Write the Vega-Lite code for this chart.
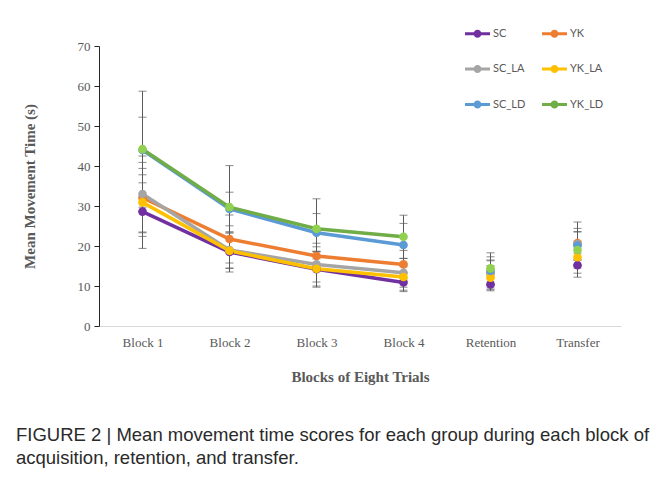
{
  "$schema": "https://vega.github.io/schema/vega-lite/v6.json",
  "width": 522,
  "height": 280,
  "autosize": {"type": "none"},
  "padding": {"left": 99, "top": 46, "right": 36, "bottom": 152},
  "background": "white",
  "config": {
    "view": {"stroke": null},
    "font": "Liberation Serif"
  },
  "title": {
    "text": ["FIGURE 2 | Mean movement time scores for each group during each block of", "acquisition, retention, and transfer."],
    "orient": "bottom",
    "anchor": "start",
    "frame": "bounds",
    "font": "Liberation Sans",
    "fontSize": 18.5,
    "fontWeight": "normal",
    "color": "#2a2a2a",
    "lineHeight": 23,
    "offset": 42,
    "dx": -6
  },
  "data": {
    "values": [
      {"block": "Block 1", "phase": "acq", "group": "SC", "mean": 28.6, "sd": 9.2},
      {"block": "Block 1", "phase": "acq", "group": "YK", "mean": 32.1, "sd": 8.8},
      {"block": "Block 1", "phase": "acq", "group": "SC_LA", "mean": 33.0, "sd": 9.5},
      {"block": "Block 1", "phase": "acq", "group": "YK_LA", "mean": 30.9, "sd": 8.5},
      {"block": "Block 1", "phase": "acq", "group": "SC_LD", "mean": 44.0, "sd": 8.2},
      {"block": "Block 1", "phase": "acq", "group": "YK_LD", "mean": 44.2, "sd": 14.5},
      {"block": "Block 2", "phase": "acq", "group": "SC", "mean": 18.5, "sd": 5.0},
      {"block": "Block 2", "phase": "acq", "group": "YK", "mean": 21.75, "sd": 6.0},
      {"block": "Block 2", "phase": "acq", "group": "SC_LA", "mean": 19.0, "sd": 4.5},
      {"block": "Block 2", "phase": "acq", "group": "YK_LA", "mean": 18.8, "sd": 4.4},
      {"block": "Block 2", "phase": "acq", "group": "SC_LD", "mean": 29.25, "sd": 4.2},
      {"block": "Block 2", "phase": "acq", "group": "YK_LD", "mean": 29.7, "sd": 10.4},
      {"block": "Block 3", "phase": "acq", "group": "SC", "mean": 14.2, "sd": 4.5},
      {"block": "Block 3", "phase": "acq", "group": "YK", "mean": 17.5, "sd": 3.2},
      {"block": "Block 3", "phase": "acq", "group": "SC_LA", "mean": 15.4, "sd": 4.4},
      {"block": "Block 3", "phase": "acq", "group": "YK_LA", "mean": 14.3, "sd": 4.3},
      {"block": "Block 3", "phase": "acq", "group": "SC_LD", "mean": 23.3, "sd": 4.8},
      {"block": "Block 3", "phase": "acq", "group": "YK_LD", "mean": 24.3, "sd": 7.5},
      {"block": "Block 4", "phase": "acq", "group": "SC", "mean": 10.9, "sd": 2.3},
      {"block": "Block 4", "phase": "acq", "group": "YK", "mean": 15.4, "sd": 3.5},
      {"block": "Block 4", "phase": "acq", "group": "SC_LA", "mean": 13.3, "sd": 3.6},
      {"block": "Block 4", "phase": "acq", "group": "YK_LA", "mean": 12.25, "sd": 3.3},
      {"block": "Block 4", "phase": "acq", "group": "SC_LD", "mean": 20.25, "sd": 5.4},
      {"block": "Block 4", "phase": "acq", "group": "YK_LD", "mean": 22.3, "sd": 5.4},
      {"block": "Retention", "phase": "post", "group": "SC", "mean": 10.4, "sd": 1.6},
      {"block": "Retention", "phase": "post", "group": "YK", "mean": 13.3, "sd": 3.0},
      {"block": "Retention", "phase": "post", "group": "SC_LA", "mean": 13.0, "sd": 3.5},
      {"block": "Retention", "phase": "post", "group": "YK_LA", "mean": 12.1, "sd": 3.0},
      {"block": "Retention", "phase": "post", "group": "SC_LD", "mean": 13.8, "sd": 3.5},
      {"block": "Retention", "phase": "post", "group": "YK_LD", "mean": 14.4, "sd": 3.9},
      {"block": "Transfer", "phase": "post", "group": "SC", "mean": 15.2, "sd": 3.0},
      {"block": "Transfer", "phase": "post", "group": "YK", "mean": 20.7, "sd": 5.3},
      {"block": "Transfer", "phase": "post", "group": "SC_LA", "mean": 20.4, "sd": 4.0},
      {"block": "Transfer", "phase": "post", "group": "YK_LA", "mean": 17.2, "sd": 4.0},
      {"block": "Transfer", "phase": "post", "group": "SC_LD", "mean": 20.1, "sd": 3.5},
      {"block": "Transfer", "phase": "post", "group": "YK_LD", "mean": 19.0, "sd": 4.5}
    ]
  },
  "encoding": {
    "x": {
      "field": "block",
      "type": "ordinal",
      "sort": ["Block 1", "Block 2", "Block 3", "Block 4", "Retention", "Transfer"],
      "scale": {"type": "point", "padding": 0.5},
      "axis": {
        "title": "Blocks of Eight Trials",
        "titleFont": "Liberation Serif",
        "titleFontSize": 15,
        "titleFontWeight": "bold",
        "titleColor": "#595959",
        "titlePadding": 20,
        "labelFont": "Liberation Serif",
        "labelFontSize": 13,
        "labelColor": "#595959",
        "labelPadding": 10,
        "labelAngle": 0,
        "ticks": false,
        "domainColor": "#D9D9D9",
        "domainWidth": 1
      }
    },
    "y": {
      "field": "mean",
      "type": "quantitative",
      "scale": {"domain": [0, 70], "nice": false},
      "axis": {
        "title": "Mean Movement Time (s)",
        "titleFont": "Liberation Serif",
        "titleFontSize": 15,
        "titleFontWeight": "bold",
        "titleColor": "#595959",
        "titlePadding": 40,
        "labelFont": "Liberation Serif",
        "labelFontSize": 13,
        "labelColor": "#595959",
        "labelPadding": 4,
        "values": [0, 10, 20, 30, 40, 50, 60, 70],
        "grid": false,
        "tickSize": 5,
        "tickColor": "#262626",
        "domainColor": "#262626"
      }
    }
  },
  "layer": [
    {
      "mark": {"type": "errorbar", "ticks": {"size": 8, "color": "#595959"}, "rule": {"color": "#595959"}, "color": "#595959", "thickness": 1},
      "encoding": {
        "y": {"field": "mean", "type": "quantitative"},
        "yError": {"field": "sd"}
      }
    },
    {
      "transform": [{"filter": "datum.phase === 'acq'"}],
      "mark": {"type": "line", "strokeWidth": 3.5},
      "encoding": {
        "color": {
          "field": "group",
          "type": "nominal",
          "scale": {
            "domain": ["SC", "YK", "SC_LA", "YK_LA", "SC_LD", "YK_LD"],
            "range": ["#7030A0", "#ED7D31", "#A5A5A5", "#FFC000", "#5B9BD5", "#70AD47"]
          }
        }
      }
    },
    {
      "mark": {"type": "point", "filled": true, "size": 75, "opacity": 1},
      "encoding": {
        "color": {
          "condition": {"test": "datum.group === 'YK_LD'", "value": "#92D050"},
          "field": "group",
          "type": "nominal",
          "legend": {
            "title": null,
            "orient": "none",
            "legendX": 366,
            "legendY": -25,
            "columns": 2,
            "columnPadding": 16,
            "rowPadding": 17.5,
            "values": ["SC", "SC_LA", "SC_LD", "YK", "YK_LA", "YK_LD"],
            "symbolType": "M-1,-0.12L1,-0.12L1,0.12L-1,0.12Z M0.32,0 A0.32,0.32 0 1,1 -0.32,0 A0.32,0.32 0 1,1 0.32,0 Z",
            "symbolSize": 625,
            "symbolStrokeWidth": 0,
            "labelFont": "Lato",
            "labelFontSize": 11,
            "labelColor": "#595959",
            "labelOffset": 3
          }
        }
      }
    }
  ]
}
